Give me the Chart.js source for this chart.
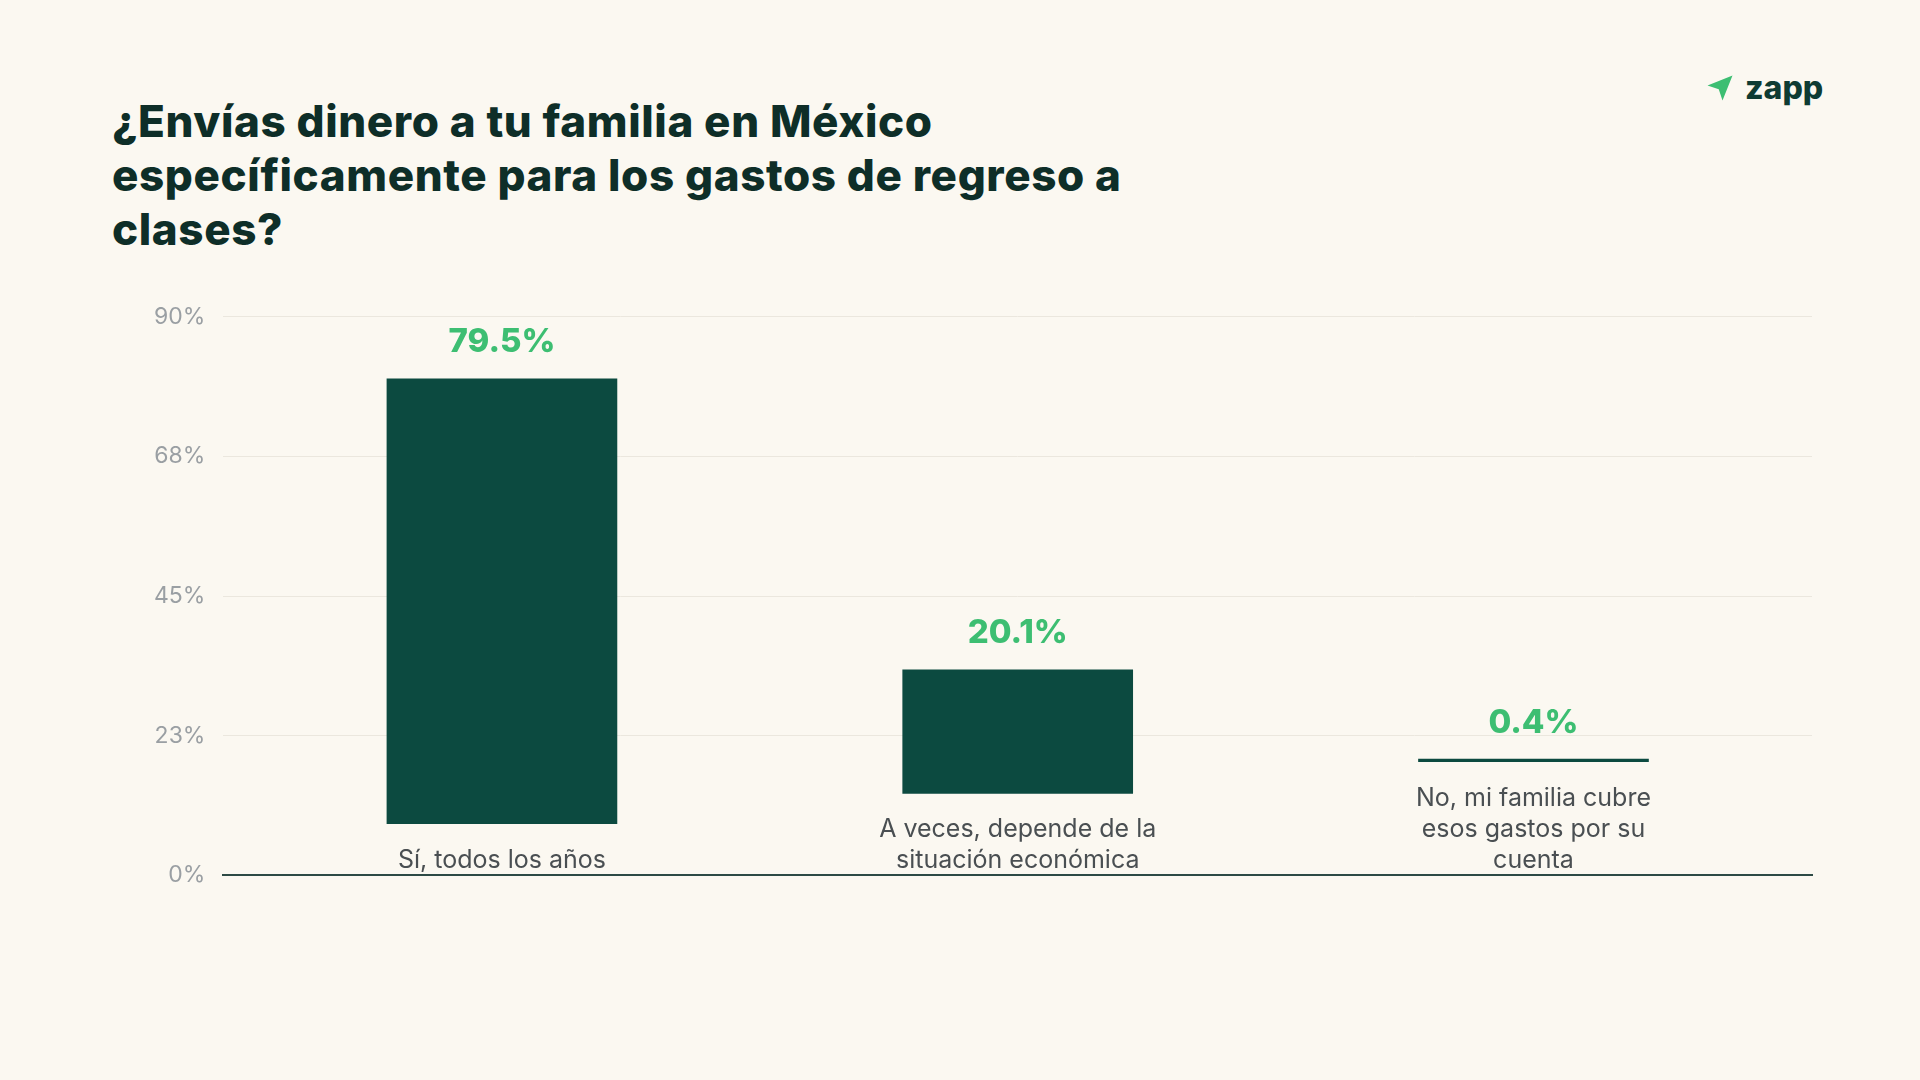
<!DOCTYPE html>
<html><head><meta charset="utf-8">
<script src="https://cdn.jsdelivr.net/npm/chart.js@4"></script>
<style>
html,body{margin:0;padding:0;background:#fbf8f1;width:1920px;height:1080px;overflow:hidden;font-family:Inter,"Open Sans",sans-serif}
#title{position:absolute;left:112px;top:94px;width:1160px;font-size:44px;font-weight:800;line-height:54px;color:#0e2e28;letter-spacing:0.6px}
#logo{position:absolute;left:1705px;top:68px;font-size:32px;font-weight:800;color:#0e3b33;display:flex;align-items:center;gap:10px}
#wrap{position:absolute;left:136px;top:285px;width:1684px;height:622px}
</style></head><body>
<div id="title">¿Envías dinero a tu familia en México específicamente para los gastos de regreso a clases?</div>
<div id="logo"><svg width="30" height="30" viewBox="0 0 24 24"><path d="M22 2 L2 10 L11 13 L14 22 Z" fill="#3dbe72"/></svg>zapp</div>
<div id="wrap"><canvas id="c" width="1684" height="622"></canvas></div>
<script>
const categories=[["Sí, todos los años"],["A veces, depende de la","situación económica"],["No, mi familia cubre","esos gastos por su","cuenta"]];
const values=[79.5,20.1,0.4];
const barStarts=[8.3,13.2,18.3];
const barEnds=[80,33.1,18.7];
const tickValues=[0,22.5,45,67.5,90];
const labelPlugin={id:'lbl',afterDatasetsDraw(ch){
 const ctx=ch.ctx,x=ch.scales.x,y=ch.scales.y;
 ctx.save();ctx.textAlign='center';
 values.forEach((v,i)=>{
  const px=x.getPixelForValue(i);
  ctx.fillStyle='#3dbe72';ctx.font='800 33px Inter';ctx.textBaseline='bottom';
  ctx.fillText(v.toFixed(1)+'%',px,y.getPixelForValue(barEnds[i])-20);
  ctx.fillStyle='#4a4f52';ctx.font='25px Inter';
  const lines=categories[i];const base=y.getPixelForValue(0)-2;
  lines.forEach((l,j)=>ctx.fillText(l,px,base-(lines.length-1-j)*31));
 });
 ctx.restore();}};
new Chart(document.getElementById('c'),{type:'bar',
 data:{datasets:[{data:barStarts.map((s,i)=>({x:i,y:[s,barEnds[i]]})),backgroundColor:'#0c4a40',barThickness:230,borderSkipped:false}]},
 options:{responsive:false,animation:false,devicePixelRatio:1,
  layout:{padding:{top:20,right:8}},
  plugins:{legend:{display:false},tooltip:{enabled:false}},
  scales:{x:{type:'linear',min:-0.54,max:2.54,offset:false,ticks:{display:false},grid:{display:false},border:{color:'#2d4a45',width:2}},
   y:{min:0,max:90,afterBuildTicks(s){s.ticks=tickValues.map(v=>({value:v}))},
    ticks:{color:'#9a9fa3',font:{size:23,family:'Inter'},padding:18,callback:v=>Math.round(v)+'%'},
    grid:{color:'#ebe7de',drawTicks:false},border:{display:false}}}},
 plugins:[labelPlugin]});
</script></body></html>
